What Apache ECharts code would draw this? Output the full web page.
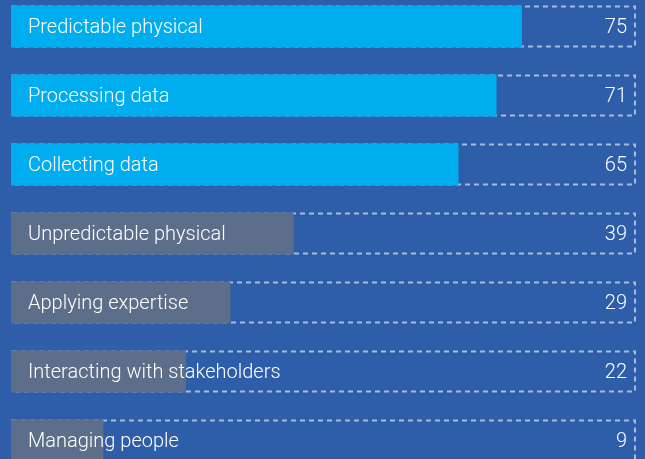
<!DOCTYPE html>
<html>
<head>
<meta charset="utf-8">
<script src="https://cdn.jsdelivr.net/npm/echarts@6/dist/echarts.min.js"></script>
<style>
  html, body { margin: 0; padding: 0; background: #2e5ea9; overflow: hidden; width: 645px; height: 459px; }
  /* the plot runs slightly past the top and bottom edges of the page */
  #chart { position: absolute; left: 0; top: -8.5px; width: 645px; height: 483px; }
</style>
</head>
<body>
<div id="chart"></div>
<script>
// Share of activity time that is automatable, by activity type
const categories = [
  'Predictable physical',
  'Processing data',
  'Collecting data',
  'Unpredictable physical',
  'Applying expertise',
  'Interacting with stakeholders',
  'Managing people'
];
const values = [75, 71, 65, 39, 29, 22, 9];
// Top three activity types are highlighted
const highlighted = [true, true, true, false, false, false, false];

const AXIS_START = -5.6;
const AXIS_END = 93;
const FONT = 'Roboto, "Liberation Sans", Arial, sans-serif';

const chart = echarts.init(document.getElementById('chart'), null, { renderer: 'canvas' });

chart.setOption({
  backgroundColor: '#2e5ea9',
  animation: false,
  grid: { left: 11, right: 9, top: 0, bottom: 0, containLabel: false },
  xAxis: {
    type: 'value', min: AXIS_START, max: AXIS_END, startValue: AXIS_START,
    show: false
  },
  yAxis: {
    type: 'category', data: categories, inverse: true, show: false
  },
  series: [
    {
      // dashed outline track spanning the full scale, carrying the value label
      type: 'bar',
      data: categories.map(() => AXIS_END),
      barWidth: 42,
      itemStyle: {
        color: 'rgba(0,0,0,0)',
        borderColor: '#a9bcdc',
        borderWidth: 2,
        borderType: [5, 4]
      },
      label: {
        show: true, position: 'insideRight', offset: [-4, 1],
        color: '#ffffff', fontFamily: FONT, fontWeight: 300, fontSize: 20,
        formatter: p => String(values[p.dataIndex])
      },
      silent: true, z: 1
    },
    {
      type: 'bar',
      data: values.map((v, i) => ({
        value: v,
        itemStyle: { color: highlighted[i] ? '#00aeef' : '#5d6e8b' }
      })),
      barWidth: 42,
      barGap: '-100%',
      label: {
        show: true, position: 'insideLeft', offset: [12, 1],
        color: '#ffffff', fontFamily: FONT, fontWeight: 300, fontSize: 20,
        formatter: p => categories[p.dataIndex]
      },
      z: 2
    }
  ]
});
</script>
</body>
</html>
